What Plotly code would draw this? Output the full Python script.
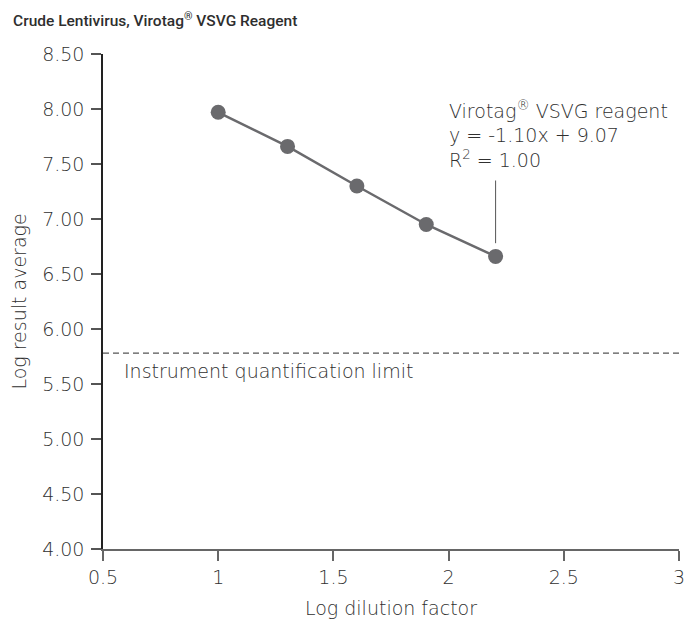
import plotly.graph_objects as go

# Data
log_dilution = [1.000, 1.301, 1.602, 1.903, 2.204]
log_result = [7.97, 7.66, 7.30, 6.95, 6.66]
quant_limit = 5.78

x_ticks = [0.5, 1, 1.5, 2, 2.5, 3]
x_tick_labels = ["0.5", "1", "1.5", "2", "2.5", "3"]
y_ticks = [4.0, 4.5, 5.0, 5.5, 6.0, 6.5, 7.0, 7.5, 8.0, 8.5]
y_tick_labels = ["4.00", "4.50", "5.00", "5.50", "6.00", "6.50", "7.00", "7.50", "8.00", "8.50"]

title_text = "Crude Lentivirus, Virotag<sup>®</sup> VSVG Reagent"
label_lines = ["Virotag<sup>®</sup> VSVG reagent", "y = -1.10x + 9.07", "R<sup>2</sup> = 1.00"]
limit_label = "Instrument quantification limit"

FONT = "'DejaVu Sans', 'Open Sans', sans-serif"
TFONT = "Roboto, 'Open Sans', sans-serif"
TXT = "#303030"
MARK = "#6a6a6d"
FS = 19

fig = go.Figure()
fig.add_trace(go.Scatter(
    x=log_dilution, y=log_result, mode="lines+markers",
    line=dict(color=MARK, width=2.5),
    marker=dict(color=MARK, size=15),
    showlegend=False, hoverinfo="skip",
))

# Dashed quantification limit line
fig.add_shape(type="line", xref="paper", x0=0, x1=1, yref="y", y0=quant_limit, y1=quant_limit,
              line=dict(color="#555555", width=1.2, dash="6px,4px"))
fig.add_annotation(x=0, xref="paper", y=quant_limit, yref="y", text=limit_label,
                   showarrow=False, xanchor="left", yanchor="middle", xshift=19, yshift=-18,
                   font=dict(family=FONT, size=FS, color=TXT, weight=300))

# Leader line to last point
fig.add_shape(type="line", xref="x", x0=log_dilution[-1], x1=log_dilution[-1],
              yref="y", y0=log_result[-1] + 0.12, y1=log_result[-1] + 0.69,
              line=dict(color="#555555", width=1))

# Regression label
for i, t in enumerate(label_lines):
    fig.add_annotation(x=log_dilution[-1], xref="x", y=log_result[-1], yref="y", text=t,
                       showarrow=False, xanchor="left", yanchor="middle",
                       xshift=-49, yshift=146 - 24.5 * i,
                       font=dict(family=FONT, size=FS, color=TXT, weight=300))

fig.update_layout(
    width=687, height=619,
    margin=dict(l=103, r=8, t=54, b=70, autoexpand=False),
    paper_bgcolor="white", plot_bgcolor="white",
    font=dict(family=FONT, color=TXT),
    title=dict(text=title_text, x=0.019, xanchor="left", y=0.966, yanchor="middle",
               font=dict(family=TFONT, size=15.5, color="#2e2e2e", weight=500)),
    xaxis=dict(range=[0.5, 3], tickvals=x_ticks, ticktext=x_tick_labels, automargin=False,
               showgrid=False, zeroline=False, showline=True, linecolor="#666666", linewidth=1.5,
               ticks="outside", ticklen=10, tickcolor="#666666", tickwidth=1.5,
               tickfont=dict(family=FONT, size=FS, color=TXT, weight=300),
               title=dict(text="Log dilution factor", font=dict(family=FONT, size=FS, color=TXT, weight=300), standoff=15)),
    yaxis=dict(range=[4.0, 8.5], tickvals=y_ticks, ticktext=y_tick_labels, automargin=False,
               showgrid=False, zeroline=False, showline=True, linecolor="#222222", linewidth=1.5,
               ticks="outside", ticklen=10, tickcolor="#555555", tickwidth=1.5, ticklabelstandoff=3,
               tickfont=dict(family=FONT, size=FS, color=TXT, weight=300),
               title=dict(text="Log result average", font=dict(family=FONT, size=FS, color=TXT, weight=300), standoff=10)),
)

fig.write_html("out.html", config={"displayModeBar": False},
               post_script="document.body.style.margin='0';")
